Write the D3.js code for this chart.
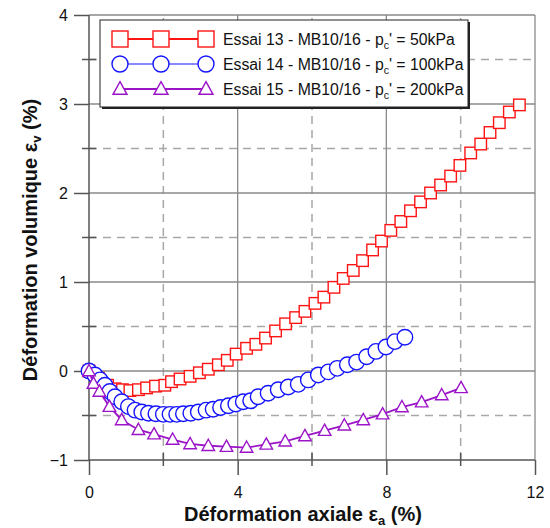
<!DOCTYPE html>
<html><head><meta charset="utf-8">
<script src="https://cdn.jsdelivr.net/npm/d3@7"></script>
<style>body{margin:0;background:#fff}svg{display:block}text{font-family:"Liberation Sans",Arial,sans-serif}</style>
</head><body><svg id="c" width="550" height="528"></svg>
<script>
const seriesNames = ["Essai 13 - MB10/16 - p", "Essai 14 - MB10/16 - p", "Essai 15 - MB10/16 - p"];
const seriesSuffix = ["' = 50kPa", "' = 100kPa", "' = 200kPa"];
const xMajorTicks = [0, 4, 8, 12];
const xMinorTicks = [2, 6, 10];
const yMajorTicks = [-1, 0, 1, 2, 3, 4];
const yMinorTicks = [-0.5, 0.5, 1.5, 2.5, 3.5];

const essai13X = [0, 0.25, 0.5, 0.7, 0.9, 1.1, 1.33, 1.55, 1.79, 2.04, 2.22, 2.45, 2.72, 2.97, 3.21, 3.48, 3.72, 3.96, 4.24, 4.49, 4.75, 5.02, 5.29, 5.56, 5.81, 6.08, 6.32, 6.59, 6.84, 7.11, 7.36, 7.63, 7.87, 8.12, 8.39, 8.65, 8.92, 9.19, 9.46, 9.73, 9.98, 10.27, 10.54, 10.79, 11.04, 11.31, 11.58];
const essai13Y = [0, -0.08, -0.16, -0.2, -0.21, -0.22, -0.21, -0.19, -0.17, -0.16, -0.12, -0.09, -0.06, -0.02, 0.02, 0.07, 0.12, 0.19, 0.255, 0.30, 0.37, 0.45, 0.53, 0.60, 0.67, 0.76, 0.83, 0.94, 1.04, 1.13, 1.24, 1.36, 1.46, 1.58, 1.68, 1.80, 1.90, 2.00, 2.09, 2.19, 2.31, 2.45, 2.55, 2.68, 2.79, 2.91, 2.99];
const essai14X = [0, 0.16, 0.3, 0.43, 0.56, 0.70, 0.88, 1.06, 1.24, 1.42, 1.60, 1.80, 2.0, 2.18, 2.36, 2.54, 2.74, 2.94, 3.15, 3.34, 3.54, 3.75, 3.95, 4.15, 4.35, 4.55, 4.82, 5.09, 5.36, 5.63, 5.90, 6.17, 6.44, 6.68, 6.95, 7.20, 7.47, 7.72, 7.99, 8.23, 8.50];
const essai14Y = [0, -0.045, -0.1, -0.16, -0.23, -0.29, -0.345, -0.40, -0.44, -0.46, -0.475, -0.48, -0.487, -0.487, -0.487, -0.48, -0.475, -0.46, -0.44, -0.43, -0.41, -0.39, -0.37, -0.345, -0.335, -0.29, -0.25, -0.21, -0.18, -0.15, -0.10, -0.045, -0.01, 0.03, 0.07, 0.10, 0.16, 0.22, 0.27, 0.33, 0.38];
const essai15X = [0, 0.12, 0.28, 0.55, 0.88, 1.33, 1.75, 2.25, 2.72, 3.21, 3.70, 4.24, 4.77, 5.28, 5.81, 6.34, 6.87, 7.38, 7.90, 8.42, 8.95, 9.49, 10.01];
const essai15Y = [0, -0.14, -0.23, -0.40, -0.55, -0.66, -0.71, -0.77, -0.82, -0.84, -0.85, -0.86, -0.825, -0.79, -0.73, -0.67, -0.61, -0.55, -0.485, -0.405, -0.35, -0.27, -0.19];

const colors = ["#ff1414", "#1414ff", "#9b14c8"];
const lineW = [2, 1.2, 1.8];

const svg = d3.select("#c");
const x = d3.scaleLinear().domain([0, 12]).range([89, 535]);
const y = d3.scaleLinear().domain([-1, 4]).range([460, 15]);

// grid
const g = svg.append("g");
g.selectAll(".gxm").data(xMinorTicks).join("line")
  .attr("x1", d => x(d)).attr("x2", d => x(d)).attr("y1", y(-1)).attr("y2", y(4))
  .attr("stroke", "#a8a8a8").attr("stroke-width", 1.5).attr("stroke-dasharray", "8,6");
g.selectAll(".gym").data(yMinorTicks).join("line")
  .attr("y1", d => y(d)).attr("y2", d => y(d)).attr("x1", x(0)).attr("x2", x(12))
  .attr("stroke", "#a8a8a8").attr("stroke-width", 1.5).attr("stroke-dasharray", "8,6");
g.selectAll(".gxM").data(xMajorTicks.filter(d => d > 0)).join("line")
  .attr("x1", d => x(d)).attr("x2", d => x(d)).attr("y1", y(-1)).attr("y2", y(4))
  .attr("stroke", "#8a8a8a").attr("stroke-width", 1.3);
g.selectAll(".gyM").data(yMajorTicks.filter(d => d > -1)).join("line")
  .attr("y1", d => y(d)).attr("y2", d => y(d)).attr("x1", x(0)).attr("x2", x(12))
  .attr("stroke", "#8a8a8a").attr("stroke-width", 1.3);

// axes
const axCol = "#555";
const xAxis = svg.append("g").attr("transform", `translate(0,${y(-1)})`)
  .call(d3.axisBottom(x).tickValues(xMajorTicks).tickSize(15).tickPadding(12).tickFormat(d3.format("d")));
const yAxis = svg.append("g").attr("transform", `translate(${x(0)},0)`)
  .call(d3.axisLeft(y).tickValues(yMajorTicks).tickSize(15).tickPadding(6).tickFormat(d3.format("d")));
[xAxis, yAxis].forEach(a => {
  a.select(".domain").attr("stroke", axCol).attr("stroke-width", 1.5);
  a.selectAll(".tick line").attr("stroke", axCol).attr("stroke-width", 1.5);
  a.selectAll("text").attr("font-size", 16).attr("fill", "#111").attr("font-family", "Liberation Sans, Arial, sans-serif");
});
xAxis.select(".domain").attr("d", `M${x(0)},0H${x(12)}`);
yAxis.select(".domain").attr("d", `M0,${y(4)}V${y(-1)}`);
svg.append("g").selectAll("line").data(xMinorTicks).join("line")
  .attr("x1", d => x(d)).attr("x2", d => x(d)).attr("y1", y(-1) - 7).attr("y2", y(-1) + 6)
  .attr("stroke", axCol).attr("stroke-width", 1.5);
svg.append("g").selectAll("line").data(yMinorTicks).join("line")
  .attr("y1", d => y(d)).attr("y2", d => y(d)).attr("x1", x(0) - 7).attr("x2", x(0) + 7)
  .attr("stroke", axCol).attr("stroke-width", 1.5);

// marker drawers
function marker(sel, type, size, color, sw) {
  if (type === 0) {
    sel.append("rect").attr("x", -size / 2).attr("y", -size / 2).attr("width", size).attr("height", size)
      .attr("fill", "#fff").attr("stroke", color).attr("stroke-width", sw);
  } else if (type === 1) {
    sel.append("circle").attr("r", size / 2).attr("fill", "#fff").attr("stroke", color).attr("stroke-width", sw);
  } else {
    const h = size * 0.9, w = size;
    sel.append("path").attr("d", `M0,${-h * 0.58}L${w / 2},${h * 0.42}L${-w / 2},${h * 0.42}Z`)
      .attr("fill", "#fff").attr("stroke", color).attr("stroke-width", sw);
  }
}

const allX = [essai13X, essai14X, essai15X];
const allY = [essai13Y, essai14Y, essai15Y];
const plotSizes = [11.5, 15.5, 12.5];
const line = d3.line().x(d => x(d[0])).y(d => y(d[1]));
allX.forEach((xs, i) => {
  const pts = xs.map((v, j) => [v, allY[i][j]]);
  const sg = svg.append("g");
  sg.append("path").datum(pts).attr("d", line).attr("fill", "none")
    .attr("stroke", colors[i]).attr("stroke-width", lineW[i]);
  sg.selectAll("g").data(pts).join("g")
    .attr("transform", d => `translate(${x(d[0])},${y(d[1])})`)
    .each(function () { marker(d3.select(this), i, plotSizes[i], colors[i], 1.4); });
});

// legend
const lg = svg.append("g");
lg.append("rect").attr("x", 102).attr("y", 22).attr("width", 368).attr("height", 87).attr("fill", "#222");
lg.append("rect").attr("x", 100).attr("y", 20).attr("width", 368).attr("height", 87)
  .attr("fill", "#fff").attr("stroke", "#222").attr("stroke-width", 1);
const legY = [39, 64, 89];
const legMX = [120, 161, 206];
const legSizes = [16, 16, 14];
legY.forEach((ly, i) => {
  lg.append("line").attr("x1", legMX[0]).attr("x2", legMX[2]).attr("y1", ly).attr("y2", ly)
    .attr("stroke", colors[i]).attr("stroke-width", lineW[i]);
  legMX.forEach(mx => {
    const mg = lg.append("g").attr("transform", `translate(${mx},${ly})`);
    marker(mg, i, legSizes[i], colors[i], 1.4);
  });
  const t = lg.append("text").attr("x", 223).attr("y", ly + 5.5).attr("font-size", 15.8).attr("fill", "#111");
  t.append("tspan").text(seriesNames[i]);
  t.append("tspan").attr("font-size", 10.5).attr("dy", 4).text("c");
  t.append("tspan").attr("dy", -4).text(seriesSuffix[i]);
});

// axis titles
const xt = svg.append("text").attr("x", 303).attr("y", 521).attr("text-anchor", "middle")
  .attr("font-size", 20).attr("font-weight", "bold").attr("fill", "#111");
xt.append("tspan").text("Déformation axiale ε");
xt.append("tspan").attr("font-size", 13).attr("dy", 4).text("a");
xt.append("tspan").attr("dy", -4).text(" (%)");
const yt = svg.append("text").attr("transform", "translate(37,240) rotate(-90)").attr("text-anchor", "middle")
  .attr("font-size", 20).attr("font-weight", "bold").attr("fill", "#111");
yt.append("tspan").text("Déformation volumique ε");
yt.append("tspan").attr("font-size", 13).attr("dy", 4).text("v");
yt.append("tspan").attr("dy", -4).text(" (%)");
</script></body></html>
